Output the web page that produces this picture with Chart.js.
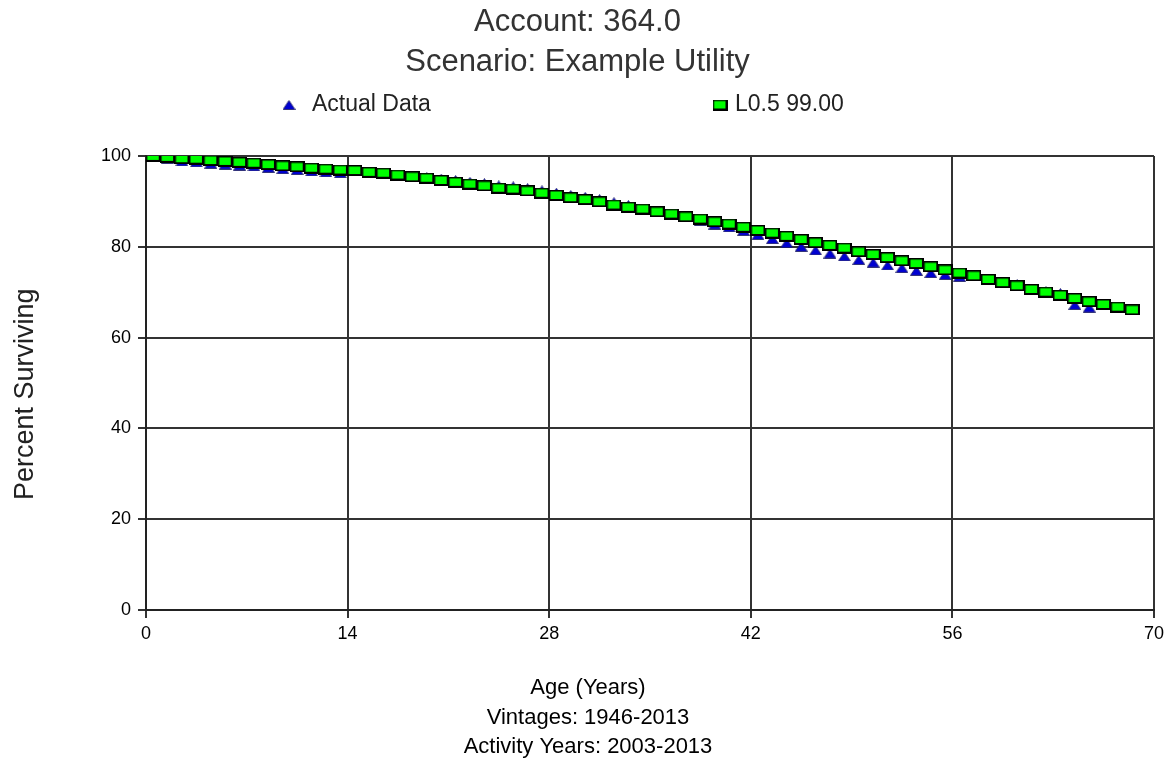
<!DOCTYPE html>
<html>
<head>
<meta charset="utf-8">
<script src="https://cdn.jsdelivr.net/npm/chart.js@4.4.1/dist/chart.umd.min.js"></script>
<style>
  body { margin: 0; background: #fff; }
  #wrap { width: 1169px; height: 762px; }
</style>
</head>
<body>
<div id="wrap"><canvas id="chart" width="1169" height="762"></canvas></div>
<script>
// ages (years) where the points sit
const ages = [0, 0.5, 1.5, 2.5, 3.5, 4.5, 5.5, 6.5, 7.5, 8.5,
  9.5, 10.5, 11.5, 12.5, 13.5, 14.5, 15.5, 16.5, 17.5, 18.5,
  19.5, 20.5, 21.5, 22.5, 23.5, 24.5, 25.5, 26.5, 27.5, 28.5,
  29.5, 30.5, 31.5, 32.5, 33.5, 34.5, 35.5, 36.5, 37.5, 38.5,
  39.5, 40.5, 41.5, 42.5, 43.5, 44.5, 45.5, 46.5, 47.5, 48.5,
  49.5, 50.5, 51.5, 52.5, 53.5, 54.5, 55.5, 56.5, 57.5, 58.5,
  59.5, 60.5, 61.5, 62.5, 63.5, 64.5, 65.5, 66.5, 67.5, 68.5];

const actualData = [100, 99.8, 99.4, 98.8, 98.6, 98.3, 98.1, 97.9, 97.7, 97.4,
  97.1, 96.9, 96.6, 96.4, 96.2, 96.7, 96.3, 96.1, 95.8, 95.5,
  95.3, 95.0, 94.7, 94.3, 94.0, 93.5, 93.3, 92.9, 92.4, 91.9,
  91.4, 91.0, 90.5, 89.8, 89.2, 88.3, 87.7, 87.1, 86.5, 85.7,
  84.9, 84.3, 83.5, 82.6, 81.7, 80.8, 80.0, 79.2, 78.5, 77.9,
  77.1, 76.5, 75.9, 75.3, 74.7, 74.2, 73.8, 73.4, 73.5, 72.9,
  72.2, 71.8, 70.8, 70.2, 69.8, 67.2, 66.6];

const curveData = [100, 99.9, 99.7, 99.4, 99.3, 99.0, 98.8, 98.6, 98.4, 98.1,
  97.8, 97.6, 97.3, 97.1, 96.9, 96.8, 96.4, 96.2, 95.8, 95.4,
  95.1, 94.6, 94.2, 93.8, 93.4, 92.9, 92.7, 92.3, 91.8, 91.3,
  90.8, 90.4, 89.9, 89.2, 88.7, 88.3, 87.7, 87.2, 86.6, 86.1,
  85.5, 85.0, 84.3, 83.6, 83.0, 82.3, 81.6, 80.9, 80.3, 79.7,
  78.9, 78.3, 77.6, 76.9, 76.3, 75.6, 74.9, 74.2, 73.6, 72.8,
  72.1, 71.4, 70.6, 70.0, 69.3, 68.6, 67.9, 67.3, 66.7, 66.1];

const titleLines = ['Account: 364.0', 'Scenario: Example Utility'];
const xTitleLines = ['Age (Years)', 'Vintages: 1946-2013', 'Activity Years: 2003-2013'];
const yTitle = 'Percent Surviving';
const seriesNames = ['Actual Data', 'L0.5 99.00'];

// point markers
function makeSquare(){
  const c = document.createElement('canvas');
  c.width = 15; c.height = 11;
  const g = c.getContext('2d');
  g.fillStyle = '#000'; g.fillRect(0, 0, 15, 11);
  g.fillStyle = '#00ff00'; g.fillRect(1.5, 1.5, 11.5, 7.5);
  return c;
}
function makeTriangle(){
  const c = document.createElement('canvas');
  c.width = 13; c.height = 10;
  const g = c.getContext('2d');
  g.beginPath(); g.moveTo(6.5, 0.5); g.lineTo(12.5, 9.5); g.lineTo(0.5, 9.5); g.closePath();
  g.fillStyle = '#0000d0'; g.fill();
  g.strokeStyle = '#202060'; g.lineWidth = 0.8; g.stroke();
  return c;
}
const squareImg = makeSquare();
const triImg = makeTriangle();

const toPts = vals => vals.map((v, i) => ({x: ages[i], y: v}));

// legend drawn by hand so the two entries sit far apart like the original
const legendPlugin = {
  id: 'wideLegend',
  afterDraw(chart){
    const ctx = chart.ctx;
    const ds = chart.data.datasets;
    const spots = [{mx: 289, tx: 312}, {mx: 720, tx: 735}];
    const y = 105;
    ctx.save();
    ctx.font = "23px 'Liberation Sans', Arial, sans-serif";
    ctx.fillStyle = '#222';
    ctx.textBaseline = 'middle';
    ds.forEach((d, i) => {
      const img = d.pointStyle;
      ctx.drawImage(img, spots[i].mx - img.width / 2, y - img.height / 2);
      ctx.fillText(d.label, spots[i].tx, y);
    });
    ctx.restore();
  }
};

// x axis caption, centred on the page rather than the plot
const xCaptionPlugin = {
  id: 'xCaption',
  afterDraw(chart){
    const ctx = chart.ctx;
    ctx.save();
    ctx.font = "22px 'Liberation Sans', Arial, sans-serif";
    ctx.fillStyle = '#000';
    ctx.textAlign = 'center';
    ctx.textBaseline = 'middle';
    xTitleLines.forEach((t, i) => ctx.fillText(t, 588, 688 + i * 29.5));
    ctx.restore();
  }
};

Chart.defaults.font.family = "'Liberation Sans', Arial, sans-serif";
Chart.defaults.color = '#000';

new Chart(document.getElementById('chart'), {
  type: 'scatter',
  data: {
    datasets: [
      {label: seriesNames[0], data: toPts(actualData), pointStyle: triImg, order: 1, showLine: false},
      {label: seriesNames[1], data: toPts(curveData), pointStyle: squareImg, order: 0, showLine: false}
    ]
  },
  options: {
    responsive: false,
    animation: false,
    devicePixelRatio: 1,
    layout: {padding: {left: 0, right: 14, top: 0, bottom: 0}},
    plugins: {
      legend: {display: false},
      tooltip: {enabled: false},
      title: {
        display: true,
        text: titleLines,
        color: '#333',
        font: {size: 31, weight: 'normal', lineHeight: 1.29},
        padding: {top: 2, bottom: 74}
      }
    },
    scales: {
      x: {
        type: 'linear', min: 0, max: 70,
        afterFit: s => { s.height = 152; },
        ticks: {stepSize: 14, font: {size: 18}, padding: 5, color: '#000'},
        grid: {color: '#333', lineWidth: 2, tickLength: 8},
        border: {color: '#222', width: 2},
        title: {display: false}
      },
      y: {
        min: 0, max: 100,
        afterFit: s => { s.width = 146; },
        ticks: {stepSize: 20, font: {size: 18}, padding: 7, color: '#000'},
        grid: {color: '#333', lineWidth: 2, tickLength: 8},
        border: {color: '#222', width: 2},
        title: {display: true, text: yTitle + '   ', font: {size: 27, lineHeight: 1.2}, padding: {top: 9, bottom: 0}, color: '#222'}
      }
    }
  },
  plugins: [legendPlugin, xCaptionPlugin]
});
</script>
</body>
</html>
